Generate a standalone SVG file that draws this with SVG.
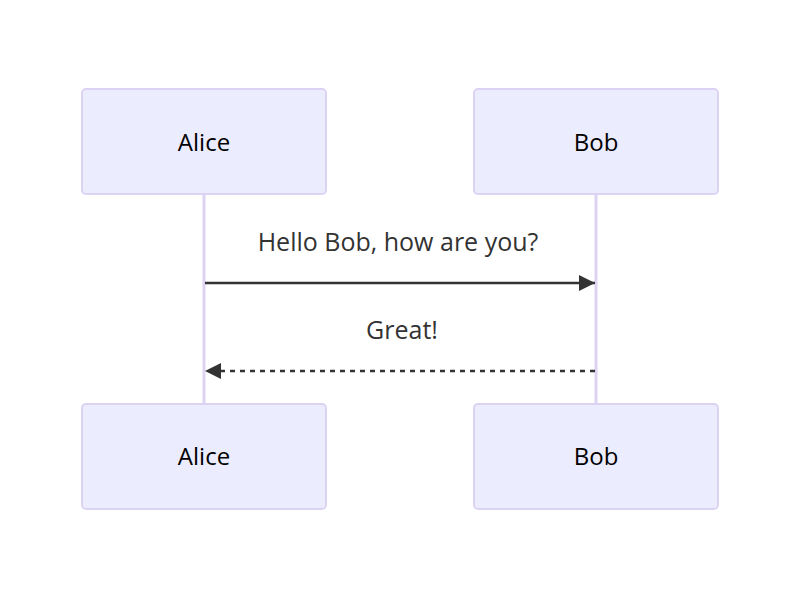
<svg xmlns="http://www.w3.org/2000/svg" width="800" height="600" viewBox="0 0 800 600">
<defs>
<style>
.actor{fill:#ECECFF;stroke:#DCD3F2;stroke-width:2}
.actor-text{font-family:"Open Sans","DejaVu Sans",sans-serif;font-size:24px;fill:#000;text-anchor:middle;dominant-baseline:central}
.life{stroke:#DCD3F2;stroke-width:3}
.msg{stroke:#333;stroke-width:2.5;fill:none}
.dashed{stroke-dasharray:5,5}
.msg-text{font-family:"Open Sans","DejaVu Sans",sans-serif;font-size:25px;fill:#333;text-anchor:middle}
</style>
<marker id="arrow" viewBox="0 0 10 10" refX="10" refY="5" markerWidth="20" markerHeight="16" markerUnits="userSpaceOnUse" orient="auto">
<path d="M0,0 L10,5 L0,10 z" fill="#333"/>
</marker>
</defs>
<rect width="800" height="600" fill="#fff"/>
<g id="lifelines">
<line class="life" x1="204" y1="194" x2="204" y2="404"/>
<line class="life" x1="596" y1="194" x2="596" y2="404"/>
</g>
<g id="alice-top"><rect class="actor" x="82" y="89" width="244" height="105" rx="4"/><text class="actor-text" x="204" y="141">Alice</text></g>
<g id="bob-top"><rect class="actor" x="474" y="89" width="244" height="105" rx="4"/><text class="actor-text" x="596" y="141">Bob</text></g>
<g id="alice-bottom"><rect class="actor" x="82" y="404" width="244" height="105" rx="4"/><text class="actor-text" x="204" y="455">Alice</text></g>
<g id="bob-bottom"><rect class="actor" x="474" y="404" width="244" height="105" rx="4"/><text class="actor-text" x="596" y="455">Bob</text></g>
<g id="connectors">
<line class="msg" x1="205" y1="283" x2="595" y2="283" marker-end="url(#arrow)"/>
<text class="msg-text" x="398" y="251">Hello Bob, how are you?</text>
<line class="msg dashed" x1="595" y1="371" x2="205" y2="371" marker-end="url(#arrow)"/>
<text class="msg-text" x="402" y="339">Great!</text>
</g>
</svg>
